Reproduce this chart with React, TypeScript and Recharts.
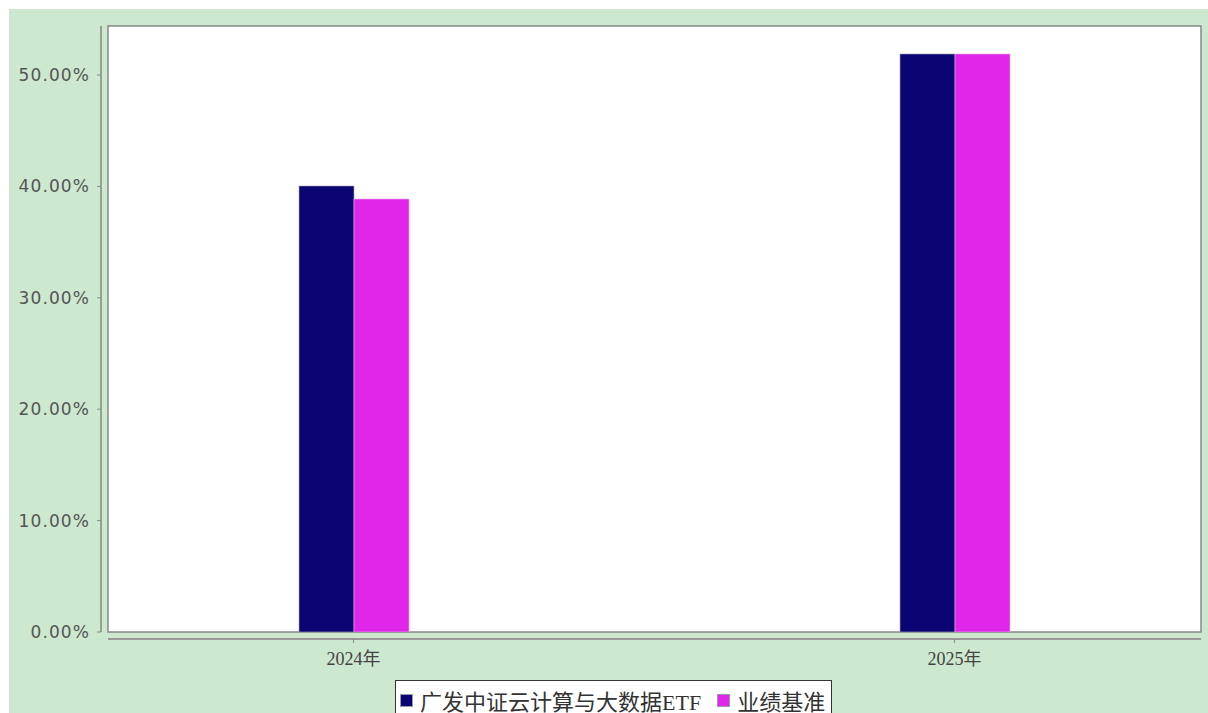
import React from "react";
import { Bar, BarChart, CartesianGrid, Legend, XAxis, YAxis } from "recharts";

const categories = ["2024年", "2025年"];
const etfValues = [40.04, 51.89];
const benchmarkValues = [38.87, 51.89];
const yTicks = [0, 10, 20, 30, 40, 50];

const ETF_NAME = "广发中证云计算与大数据ETF";
const BENCH_NAME = "业绩基准";
const seriesOrder = ["etf", "bench"];

const data = categories.map((c, i) => ({
  name: c,
  etf: etfValues[i],
  bench: benchmarkValues[i],
}));

// plot area (chart-local px)
const LEFT = 99;
const TOP = 17;
const W = 1093;
const H = 606;
const CHART_W = 1199;
const CHART_H = 704;

const SERIF = '"Liberation Serif", "Noto Sans CJK SC", serif';

function YTick(props: any) {
  const { y, payload } = props;
  return (
    <g>
      <line x1={LEFT - 11} x2={LEFT - 7} y1={y} y2={y} stroke="#888" />
      <text
        x={LEFT - 18}
        y={y}
        dy={6}
        textAnchor="end"
        fill="#555"
        fontSize={17}
        letterSpacing={1.1}
        fontFamily='"DejaVu Sans", sans-serif'
      >
        {Number(payload.value).toFixed(2) + "%"}
      </text>
    </g>
  );
}

function XTick(props: any) {
  const { x, payload } = props;
  const axisY = TOP + H + 7;
  return (
    <g>
      <line x1={x} x2={x} y1={axisY} y2={axisY + 4} stroke="#888" />
      <text
        x={x}
        y={axisY + 26}
        textAnchor="middle"
        fill="#444"
        fontSize={18}
        fontFamily={SERIF}
      >
        {payload.value}
      </text>
    </g>
  );
}

function Frame() {
  return (
    <g>
      <rect x={LEFT} y={TOP} width={W} height={H} fill="none" stroke="#888" strokeWidth={1.5} />
      <line x1={LEFT - 7} x2={LEFT - 7} y1={TOP} y2={TOP + H} stroke="#888" strokeWidth={1.5} />
      <line x1={LEFT} x2={LEFT + W} y1={TOP + H + 7} y2={TOP + H + 7} stroke="#999" strokeWidth={2} />
    </g>
  );
}

function LegendBox(props: any) {
  const items = [...(props.payload || [])].sort(
    (a: any, b: any) => seriesOrder.indexOf(a.dataKey) - seriesOrder.indexOf(b.dataKey)
  );
  return (
    <div
      style={{
        border: "1.5px solid #333",
        background: "#fff",
        padding: "3px 6px 10px 4px",
        display: "flex",
        alignItems: "center",
        whiteSpace: "nowrap",
        fontFamily: SERIF,
        fontSize: 22,
        color: "#333",
      }}
    >
      {items.map((it: any, i: number) => (
        <span key={i} style={{ display: "inline-flex", alignItems: "center", marginRight: i === 0 ? 16 : 0 }}>
          <span
            style={{
              display: "inline-block",
              width: 11,
              height: 11,
              background: it.color,
              border: "1px solid #99a",
              marginRight: 7,
            }}
          />
          {it.value}
        </span>
      ))}
    </div>
  );
}

export default function App() {
  return (
    <div
      style={{
        position: "fixed",
        left: 9,
        top: 9,
        width: CHART_W,
        height: CHART_H,
        background: "#cce8cf",
      }}
    >
      <BarChart
        width={CHART_W}
        height={CHART_H}
        data={data}
        margin={{ top: TOP, right: CHART_W - LEFT - W, left: 0, bottom: CHART_H - TOP - H - 30 }}
        barGap={0}
        barCategoryGap={0}
      >
        <CartesianGrid fill="#fff" horizontal={false} vertical={false} />
        <Frame />
        <XAxis
          dataKey="name"
          height={30}
          padding={{ left: -55, right: -54 }}
          axisLine={false}
          tickLine={false}
          tick={<XTick />}
          interval={0}
        />
        <YAxis
          width={LEFT}
          domain={[0, 54.4]}
          ticks={yTicks}
          axisLine={false}
          tickLine={false}
          tick={<YTick />}
          allowDataOverflow
        />
        <Legend
          layout="horizontal"
          verticalAlign="middle"
          align="center"
          wrapperStyle={{ top: 671, left: 386, width: "auto" }}
          content={<LegendBox />}
        />
        <Bar dataKey="etf" name={ETF_NAME} fill="#0b0574" stroke="#aab" strokeWidth={0.6} barSize={55} isAnimationActive={false} />
        <Bar dataKey="bench" name={BENCH_NAME} fill="#e026e9" stroke="#f3b0f6" strokeWidth={0.6} barSize={55} isAnimationActive={false} />
      </BarChart>
    </div>
  );
}
